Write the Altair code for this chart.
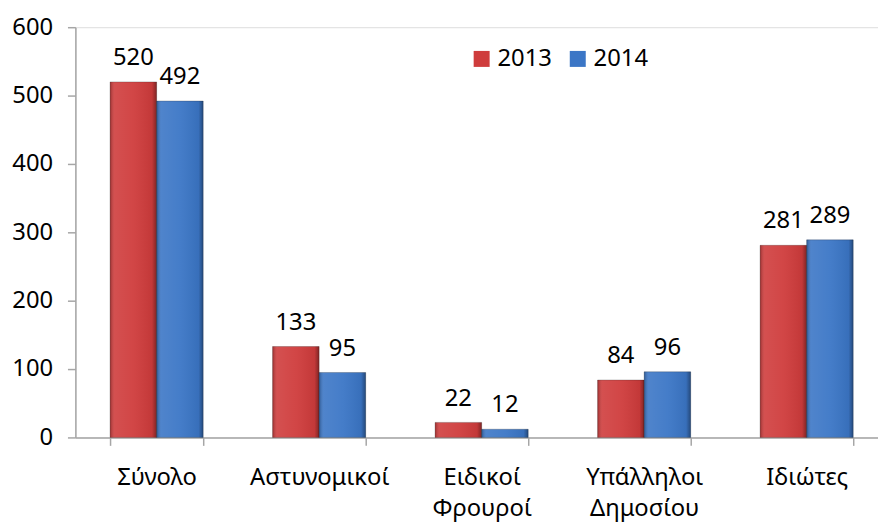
import altair as alt
import pandas as pd

categories = ["Σύνολο", "Αστυνομικοί", "Ειδικοί Φρουροί", "Υπάλληλοι Δημοσίου", "Ιδιώτες"]
years = ["2013", "2014"]
values_2013 = [520, 133, 22, 84, 281]
values_2014 = [492, 95, 12, 96, 289]
y_ticks = [0, 100, 200, 300, 400, 500, 600]

rows = []
for c, a, b in zip(categories, values_2013, values_2014):
    rows.append({"cat": c, "year": "2013", "value": a})
    rows.append({"cat": c, "year": "2014", "value": b})
df = pd.DataFrame(rows)

FONT = "Noto Sans"
FS = 24

x_enc = alt.X(
    "cat:N",
    sort=categories,
    title=None,
    scale=alt.Scale(range=[0, 820], paddingInner=0.427, paddingOuter=0.2135),
    axis=alt.Axis(
        labelAngle=0,
        labelExpr="split(datum.label, ' ')",
        labelFont=FONT,
        labelFontSize=FS,
        labelColor="#000000",
        labelPadding=20,
        labelLineHeight=32,
        labelBaseline="top",
        tickBand="extent",
        tickSize=8,
        tickColor="#a6a6a6",
        tickWidth=1.5,
        domainColor="#a6a6a6",
        domainWidth=1.5,
        grid=False,
    ),
)
xoff_enc = alt.XOffset("year:N", sort=years, scale=alt.Scale(paddingInner=0, paddingOuter=0))
y_enc = alt.Y(
    "value:Q",
    title=None,
    scale=alt.Scale(domain=[0, 600], nice=False),
    axis=alt.Axis(
        values=y_ticks,
        labelFont=FONT,
        labelFontSize=FS,
        labelColor="#000000",
        labelPadding=15,
        tickSize=8,
        tickColor="#a6a6a6",
        tickWidth=1.5,
        domainColor="#a6a6a6",
        domainWidth=1.5,
        grid=False,
    ),
)

base = alt.Chart(df).encode(x=x_enc, xOffset=xoff_enc, y=y_enc)

bars = base.mark_bar(stroke="#1a1a1a", strokeOpacity=0.25, strokeWidth=1).encode(
    color=alt.Color(
        "year:N",
        sort=years,
        scale=alt.Scale(domain=years, range=["#cf3c3c", "#3b76c6"]),
        legend=alt.Legend(
            title=None,
            orient="none",
            legendX=398,
            legendY=20,
            direction="horizontal",
            symbolType="square",
            symbolSize=260,
            symbolStrokeWidth=0,
            labelFont=FONT,
            labelFontSize=FS,
            labelColor="#000000",
            labelOffset=4,
            columnPadding=14,
        ),
    )
)

shade = base.mark_bar(
    color=alt.Gradient(
        gradient="linear",
        x1=0, x2=1, y1=0, y2=0,
        stops=[
            alt.GradientStop(offset=0, color="rgba(0,0,0,0.25)"),
            alt.GradientStop(offset=0.1, color="rgba(255,255,255,0.10)"),
            alt.GradientStop(offset=0.5, color="rgba(255,255,255,0.05)"),
            alt.GradientStop(offset=0.9, color="rgba(0,0,0,0.06)"),
            alt.GradientStop(offset=1, color="rgba(0,0,0,0.38)"),
        ],
    )
)

labels = base.mark_text(
    baseline="alphabetic", dy=-17, font=FONT, fontSize=FS, color="#000000"
).encode(text="value:Q")

chart = (
    alt.layer(bars, shade, labels)
    .properties(
        width=810,
        height=414,
        autosize=alt.AutoSizeParams(type="none"),
        padding={"left": 68, "top": 17, "right": 0, "bottom": 87},
    )
    .configure_view(stroke=None)
    .configure(background="#ffffff")
)

chart.save("out.html", embed_options={"renderer": "svg", "actions": False})
